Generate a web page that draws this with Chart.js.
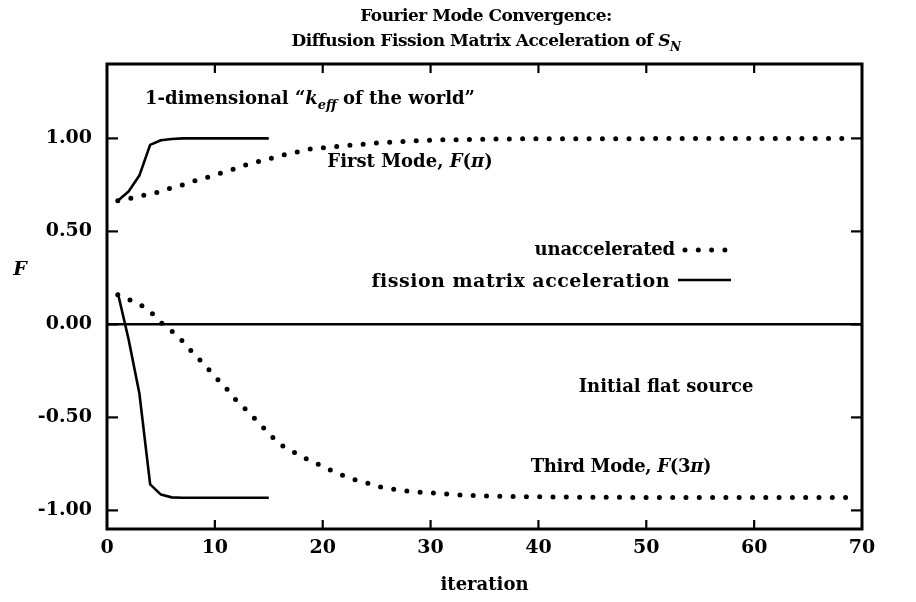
<!DOCTYPE html>
<html><head><meta charset="utf-8">
<script src="https://cdn.jsdelivr.net/npm/chart.js@4/dist/chart.umd.min.js"></script>
<style>html,body{margin:0;padding:0;background:#fff;overflow:hidden}</style>
</head><body>
<canvas id="c" width="916" height="602"></canvas>
<script>
// ---- data ----
const iterations = [1,2,3,4,5,6,7,8,9,10,11,12,13,14,15,16,17,18,19,20,21,22,23,24,25,26,27,28,29,30,31,32,33,34,35,36,37,38,39,40,41,42,43,44,45,46,47,48,49,50,51,52,53,54,55,56,57,58,59,60,61,62,63,64,65,66,67,68,69];
const firstModeUnaccel = [0.665,0.675,0.69,0.70,0.715,0.735,0.75,0.77,0.785,0.805,0.82,0.84,0.86,0.875,0.89,0.905,0.92,0.93,0.945,0.95,0.955,0.96,0.965,0.97,0.975,0.978,0.982,0.985,0.988,0.99,0.992,0.993,0.994,0.995,0.996,0.997,0.997,0.998,0.998,0.998,0.998,0.998,0.998,0.998,0.998,0.998,0.998,0.998,0.998,0.998,0.999,0.999,0.999,0.999,0.999,0.999,0.999,0.999,0.999,0.999,0.999,0.999,0.999,0.999,0.999,0.999,0.999,0.999,0.999];
const thirdModeUnaccel = [0.16,0.135,0.11,0.07,0.01,-0.035,-0.09,-0.155,-0.215,-0.28,-0.34,-0.41,-0.465,-0.525,-0.585,-0.645,-0.675,-0.71,-0.735,-0.765,-0.79,-0.815,-0.835,-0.85,-0.87,-0.88,-0.89,-0.897,-0.902,-0.906,-0.91,-0.914,-0.918,-0.92,-0.922,-0.924,-0.925,-0.926,-0.927,-0.927,-0.928,-0.928,-0.928,-0.929,-0.929,-0.929,-0.929,-0.93,-0.93,-0.93,-0.93,-0.93,-0.93,-0.93,-0.93,-0.93,-0.93,-0.93,-0.93,-0.93,-0.93,-0.93,-0.93,-0.93,-0.93,-0.93,-0.93,-0.93,-0.93];
const accelIterations = [1,2,3,4,5,6,7,8,9,10,11,12,13,14,15];
const firstModeAccel = [0.665,0.715,0.80,0.965,0.99,0.997,1.0,1.0,1.0,1.0,1.0,1.0,1.0,1.0,1.0];
const thirdModeAccel = [0.17,-0.08,-0.37,-0.86,-0.915,-0.93,-0.932,-0.932,-0.932,-0.932,-0.932,-0.932,-0.932,-0.932,-0.932];
const xTickValues = [0,10,20,30,40,50,60,70];
const yTickValues = [-1.0,-0.5,0.0,0.5,1.0];

const FAM = '"DejaVu Serif", "Liberation Serif", serif';
const FS = 18;

function pts(xs, ys){ return xs.map((x,i)=>({x:x, y:ys[i]})); }

const dotted = {borderColor:'#000', borderWidth:5, borderDash:[0,13.3], borderCapStyle:'round', pointRadius:0, fill:false, tension:0, showLine:true};
const solid = {borderColor:'#000', borderWidth:2.6, pointRadius:0, fill:false, tension:0, showLine:true, borderJoinStyle:'round'};

function drawRich(ctx, segs, x, y, align, size, spacing){
  size = size || FS; spacing = spacing || 0;
  ctx.letterSpacing = spacing + 'px';
  let total = 0;
  const fontOf = s => (s.i?'italic ':'') + 'bold ' + (s.sub?Math.round(size*0.72):size) + 'px ' + FAM;
  const ws = segs.map(s=>{ ctx.font = fontOf(s); const w = ctx.measureText(s.t).width; total += w; return w; });
  let cx = align==='center' ? x - total/2 : align==='right' ? x - total : x;
  ctx.textAlign = 'left'; ctx.textBaseline = 'alphabetic'; ctx.fillStyle = '#000';
  segs.forEach((s,k)=>{
    ctx.font = fontOf(s);
    ctx.fillText(s.t, cx, y + (s.sub?Math.round(size*0.28):0));
    cx += ws[k];
  });
  ctx.letterSpacing = '0px';
}

const decor = {
  id:'decor',
  afterDraw(chart){
    const ctx = chart.ctx, a = chart.chartArea;
    const xs = chart.scales.x, ys = chart.scales.y;
    ctx.save();
    // frame
    ctx.strokeStyle = '#000'; ctx.lineWidth = 3;
    ctx.strokeRect(a.left, a.top, a.right-a.left, a.bottom-a.top);
    // inward ticks
    ctx.lineWidth = 2.2;
    xTickValues.forEach(v=>{
      if (v===xs.min || v===xs.max) return;
      const p = xs.getPixelForValue(v);
      ctx.beginPath(); ctx.moveTo(p, a.bottom); ctx.lineTo(p, a.bottom-9); ctx.stroke();
      ctx.beginPath(); ctx.moveTo(p, a.top); ctx.lineTo(p, a.top+9); ctx.stroke();
    });
    yTickValues.forEach(v=>{
      const p = ys.getPixelForValue(v);
      ctx.beginPath(); ctx.moveTo(a.left, p); ctx.lineTo(a.left+11, p); ctx.stroke();
      ctx.beginPath(); ctx.moveTo(a.right, p); ctx.lineTo(a.right-11, p); ctx.stroke();
    });
    // titles
    drawRich(ctx, [{t:'Fourier Mode Convergence:'}], 486, 21, 'center', 17, -0.5);
    drawRich(ctx, [{t:'Diffusion Fission Matrix Acceleration of '},{t:'S',i:true},{t:'N',i:true,sub:true}], 486, 46, 'center', 17, -0.5);
    // axis titles
    drawRich(ctx, [{t:'F',i:true}], 20, 275, 'center', 19);
    drawRich(ctx, [{t:'iteration'}], (a.left+a.right)/2, 590, 'center');
    // annotations
    drawRich(ctx, [{t:'1-dimensional \u201C'},{t:'k',i:true},{t:'eff',i:true,sub:true},{t:' of the world\u201D'}], 310, 104, 'center');
    drawRich(ctx, [{t:'First Mode, '},{t:'F',i:true},{t:'('},{t:'\u03C0',i:true},{t:')'}], 410, 167, 'center');
    drawRich(ctx, [{t:'Initial flat source'}], 666, 392, 'center');
    drawRich(ctx, [{t:'Third Mode, '},{t:'F',i:true},{t:'(3'},{t:'\u03C0',i:true},{t:')'}], 621, 472, 'center', FS, -0.3);
    // legend
    drawRich(ctx, [{t:'unaccelerated'}], 675, 255, 'right', FS, -0.2);
    drawRich(ctx, [{t:'fission matrix acceleration'}], 670, 287, 'right', 19, 0.5);
    const d0 = chart.data.datasets[0], d2 = chart.data.datasets[2];
    ctx.strokeStyle = '#000';
    ctx.lineWidth = d0.borderWidth; ctx.lineCap = 'round'; ctx.setLineDash(d0.borderDash);
    ctx.beginPath(); ctx.moveTo(685, 250); ctx.lineTo(730, 250); ctx.stroke();
    ctx.setLineDash([]); ctx.lineCap = 'butt'; ctx.lineWidth = d2.borderWidth;
    ctx.beginPath(); ctx.moveTo(678, 280); ctx.lineTo(731, 280); ctx.stroke();
    ctx.restore();
  }
};

new Chart(document.getElementById('c'), {
  type:'scatter',
  data:{ datasets:[
    Object.assign({label:'unaccelerated F(\u03C0)', data:pts(iterations, firstModeUnaccel)}, dotted),
    Object.assign({label:'unaccelerated F(3\u03C0)', data:pts(iterations, thirdModeUnaccel)}, dotted),
    Object.assign({label:'fission matrix acceleration F(\u03C0)', data:pts(accelIterations, firstModeAccel)}, solid),
    Object.assign({label:'fission matrix acceleration F(3\u03C0)', data:pts(accelIterations, thirdModeAccel)}, solid)
  ]},
  options:{
    responsive:false, animation:false, devicePixelRatio:1,
    layout:{padding:{top:64, right:54, left:0, bottom:0}},
    plugins:{legend:{display:false}, tooltip:{enabled:false}, title:{display:false}},
    scales:{
      x:{ type:'linear', min:0, max:70,
          afterBuildTicks:s=>{ s.ticks = xTickValues.map(v=>({value:v})); },
          afterFit:s=>{ s.height = 73; },
          grid:{display:false, drawTicks:false},
          border:{display:false},
          ticks:{color:'#000', padding:8, maxRotation:0, autoSkip:false, font:{family:FAM, size:19, weight:'bold'}}
      },
      y:{ type:'linear', min:-1.1, max:1.4,
          afterBuildTicks:s=>{ s.ticks = yTickValues.map(v=>({value:v})); },
          afterFit:s=>{ s.width = 107; },
          grid:{drawTicks:false, lineWidth:2.5, color:c=> (c.tick && c.tick.value===0) ? '#000' : 'rgba(0,0,0,0)'},
          border:{display:false},
          ticks:{color:'#000', padding:15, autoSkip:false, font:{family:FAM, size:19, weight:'bold'}, callback:v=>Number(v).toFixed(2)}
      }
    }
  },
  plugins:[decor]
});
</script>
</body></html>
